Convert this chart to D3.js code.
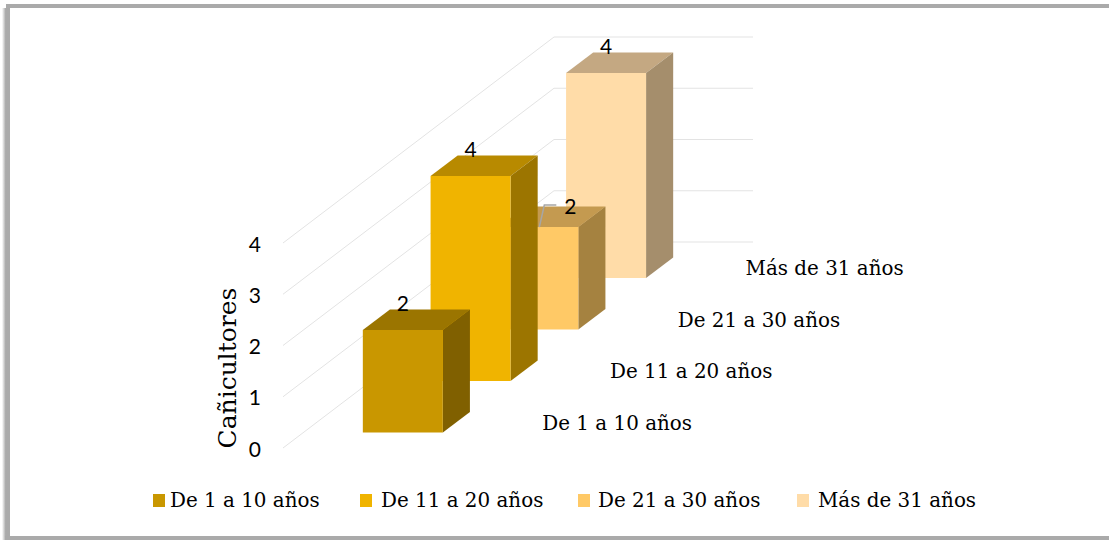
<!DOCTYPE html>
<html>
<head>
<meta charset="utf-8">
<script src="https://cdn.jsdelivr.net/npm/d3@7"></script>
<style>
  html, body { margin: 0; padding: 0; background: #fff; }
  svg { display: block; }
  .serif { font-family: "DejaVu Serif", serif; fill: #000; }
  .num { font-family: Lato, "Open Sans", sans-serif; fill: #000; }
</style>
</head>
<body>
<div id="chart"></div>
<script>
// data
var categories = ["De 1 a 10 años", "De 11 a 20 años", "De 21 a 30 años", "Más de 31 años"];
var values = [2, 4, 2, 4];
var yTicks = [0, 1, 2, 3, 4];
var yTitle = "Cañicultores";

// front, top, side colours for each bar
var frontColors = ["#C99700", "#F0B400", "#FFC966", "#FFDCA8"];
var topColors = ["#9B7500", "#B88A00", "#C49A50", "#C4A882"];
var sideColors = ["#806000", "#9C7500", "#A58240", "#A58E6C"];

var svgWidth = 1109;
var svgHeight = 540;

var svg = d3.select("#chart").append("svg")
  .attr("width", svgWidth)
  .attr("height", svgHeight);

// frame of the picture, soft on the left
var defs = svg.append("defs");
var grad = defs.append("linearGradient").attr("id", "leftEdge");
grad.append("stop").attr("offset", "0%").attr("stop-color", "#aaa").attr("stop-opacity", 0);
grad.append("stop").attr("offset", "45%").attr("stop-color", "#aaa");
grad.append("stop").attr("offset", "100%").attr("stop-color", "#aaa");

svg.append("rect").attr("x", 6).attr("y", 4).attr("width", 1103).attr("height", 4).attr("fill", "#aaa");
svg.append("rect").attr("x", 2).attr("y", 8).attr("width", 8).attr("height", 532).attr("fill", "url(#leftEdge)");
svg.append("rect").attr("x", 5).attr("y", 536).attr("width", 1104).attr("height", 4).attr("fill", "#aaa");

// oblique projection: x across, value up, depth going back and to the right
var origin = { x: 283, y: 448 };
var depthRun = { x: 271, y: -206 };

var xScale = d3.scaleLinear().domain([0, 1]).range([0, 199]);
var yScale = d3.scaleLinear().domain([0, 4]).range([0, 205]);
var depthScale = d3.scaleBand().domain(categories).range([0, 1]).paddingInner(0.6).paddingOuter(0.3);

function project(x, v, d) {
  return [
    origin.x + xScale(x) + d * depthRun.x,
    origin.y - yScale(v) + d * depthRun.y
  ];
}

var line = d3.line();

// gridlines: side wall then back wall
svg.append("g").selectAll("path")
  .data(yTicks)
  .enter()
  .append("path")
  .attr("d", function(t) {
    return line([project(0, t, 0), project(0, t, 1), project(1, t, 1)]);
  })
  .attr("fill", "none")
  .attr("stroke", "#e3e3e3")
  .attr("stroke-width", 1);

// y axis
var axisScale = d3.scaleLinear().domain([0, 4]).range([origin.y, origin.y - yScale(4)]);
var yAxis = svg.append("g")
  .attr("class", "num")
  .attr("transform", "translate(" + origin.x + ",1.5)")
  .call(d3.axisLeft(axisScale).tickValues(yTicks).tickFormat(d3.format("d")).tickSize(0).tickPadding(22));
yAxis.select(".domain").remove();
yAxis.selectAll("text").attr("font-size", 21).attr("font-family", "Lato, 'Open Sans', sans-serif").attr("fill", "#000");

svg.append("text")
  .attr("class", "serif")
  .attr("transform", "translate(236,368) rotate(-90)")
  .attr("text-anchor", "middle")
  .attr("font-size", 25)
  .text(yTitle);

// bars, back to front
var barWidth = 80 / 199;
var barLeft = (1 - barWidth) / 2;
var bars = categories.map(function(c, i) {
  return { cat: c, value: values[i], i: i };
});

var barGroups = svg.append("g").selectAll("g")
  .data(bars.slice().reverse())
  .enter()
  .append("g");

barGroups.append("path")
  .attr("d", function(b) {
    var d0 = depthScale(b.cat), d1 = d0 + depthScale.bandwidth();
    return line([project(barLeft, b.value, d0), project(barLeft, b.value, d1),
      project(barLeft + barWidth, b.value, d1), project(barLeft + barWidth, b.value, d0)]) + "Z";
  })
  .attr("fill", function(b) { return topColors[b.i]; });

barGroups.append("path")
  .attr("d", function(b) {
    var d0 = depthScale(b.cat), d1 = d0 + depthScale.bandwidth();
    var r = barLeft + barWidth;
    return line([project(r, 0, d0), project(r, b.value, d0), project(r, b.value, d1), project(r, 0, d1)]) + "Z";
  })
  .attr("fill", function(b) { return sideColors[b.i]; });

barGroups.append("path")
  .attr("d", function(b) {
    var d0 = depthScale(b.cat);
    var r = barLeft + barWidth;
    return line([project(barLeft, 0, d0), project(barLeft, b.value, d0), project(r, b.value, d0), project(r, 0, d0)]) + "Z";
  })
  .attr("fill", function(b) { return frontColors[b.i]; });

// data labels sit above the middle of the bar, the third one was dragged aside
var labelShift = [[0, 0], [0, 0], [32, 6], [0, 0]];

function labelPos(b) {
  var front = project(barLeft + barWidth / 2, b.value, depthScale(b.cat));
  var back = project(barLeft + barWidth / 2, b.value, depthScale(b.cat) + depthScale.bandwidth());
  return [front[0] + labelShift[b.i][0], back[1] + labelShift[b.i][1]];
}

// leader line of the dragged label
var third = bars[2];
var a = project(barLeft + barWidth / 2, third.value, depthScale(third.cat));
svg.append("path")
  .attr("d", line([[a[0] + 1, a[1]], [a[0] + 6, a[1] - 22], [a[0] + 18, a[1] - 22]]))
  .attr("fill", "none")
  .attr("stroke", "#a6a6a6")
  .attr("stroke-width", 1.5);

svg.append("g").selectAll("text")
  .data(bars)
  .enter()
  .append("text")
  .attr("class", "num")
  .attr("x", function(b) { return labelPos(b)[0]; })
  .attr("y", function(b) { return labelPos(b)[1] + 2; })
  .attr("text-anchor", "middle")
  .attr("font-size", 21)
  .text(function(b) { return b.value; });

// category labels on the floor
svg.append("g").selectAll("text")
  .data(bars)
  .enter()
  .append("text")
  .attr("class", "serif")
  .attr("x", function(b) { return project(1, 0, depthScale(b.cat))[0] + 40; })
  .attr("y", function(b) { return project(1, 0, depthScale(b.cat))[1] - 3; })
  .attr("font-size", 19.9)
  .text(function(b) { return b.cat; });

// legend
var legendX = d3.scaleOrdinal().domain(categories).range([153, 360, 578, 797]);

var legend = svg.append("g").selectAll("g")
  .data(bars)
  .enter()
  .append("g")
  .attr("transform", function(b) { return "translate(" + legendX(b.cat) + ",494)"; });

legend.append("rect")
  .attr("width", 12)
  .attr("height", 13)
  .attr("fill", function(b) { return frontColors[b.i]; });

legend.append("text")
  .attr("class", "serif")
  .attr("x", function(b) { return b.i === 0 ? 17 : (b.i === 1 ? 21 : (b.i === 2 ? 20 : 21)); })
  .attr("y", 13)
  .attr("font-size", 19.9)
  .text(function(b) { return b.cat; });
</script>
</body>
</html>
